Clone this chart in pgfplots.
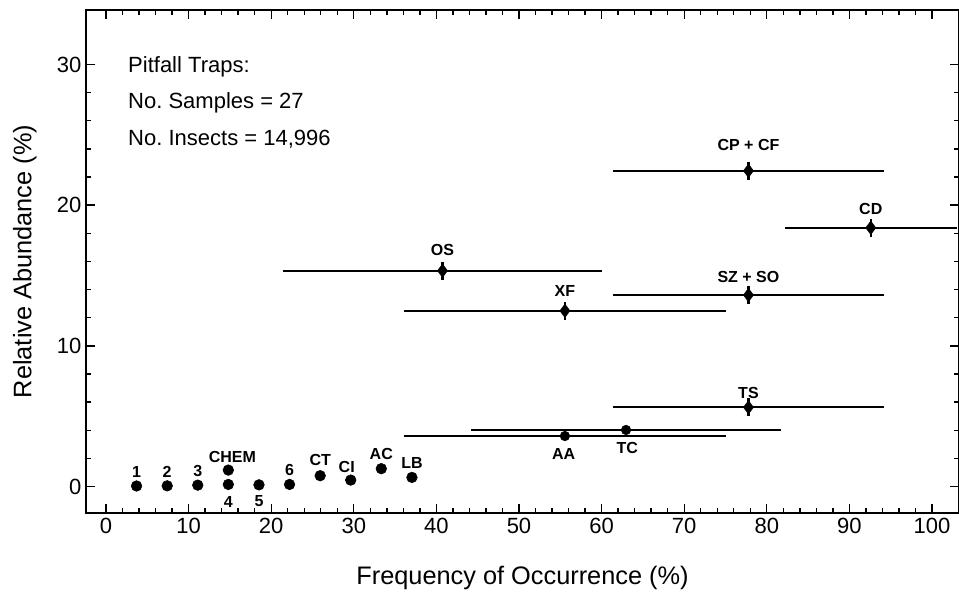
\documentclass[border=0pt]{standalone}
\usepackage{pgfplots}
\pgfplotsset{compat=1.18}
\usepackage{pgfplotstable}
\usepackage{fontspec}
\setmainfont{Liberation Sans}
\frenchspacing

% frequency = k/27 samples, abundance in %
\pgfplotstableread[col sep=comma]{
x,y,lab,dx,dy
3.70,0.04,1,0,10.5
7.41,0.05,2,0,10.5
11.11,0.10,3,0,10.5
14.81,0.15,4,0,-13
14.81,1.17,CHEM,3,10
18.52,0.12,5,0,-12
22.22,0.15,6,0,11
25.93,0.77,CT,0,11.5
29.63,0.46,CI,-3,9.5
33.33,1.27,AC,0,11
37.04,0.65,LB,0,11
}\smallpts

\pgfplotstableread[col sep=comma]{
x,y,ex,lab,dx,dy
40.74,15.34,19.3,OS,0,15.5
55.56,12.49,19.5,XF,0,14.8
77.78,13.61,16.4,SZ + SO,0,13.7
77.78,22.44,16.4,CP + CF,0,19.3
92.59,18.39,10.4,CD,0,13.8
77.78,5.63,16.4,TS,0,10.5
}\bigpts

\pgfplotstableread[col sep=comma]{
x,y,ex,lab,dx,dy
62.96,4.02,18.8,TC,1,-13.7
55.56,3.59,19.5,AA,-1,-13.5
}\lowpts

\pgfplotsset{ptlabels/.style={
  nodes near coords, point meta=explicit symbolic,
  visualization depends on={\thisrow{dx} \as \labdx},
  visualization depends on={\thisrow{dy} \as \labdy},
  nodes near coords style={font=\fontsize{12}{13}\selectfont\bfseries,
    anchor=center, inner sep=0pt, xshift=\labdx pt, yshift=\labdy pt}}}

\begin{document}
\begin{tikzpicture}
\begin{axis}[
  scale only axis,
  width=654.75pt, height=377.25pt,
  xmin=-2.42, xmax=103.27,
  ymin=-1.88, ymax=33.87,
  xtick={0,10,...,100},
  ytick={0,10,20,30},
  minor x tick num=4,
  minor y tick num=4,
  tick align=inside,
  major tick length=6.75pt,
  minor tick length=3.75pt,
  axis line style={line width=1.2pt},
  every tick/.style={black, line width=1pt},
  /pgf/number format/assume math mode=true,
  ticklabel style={font=\fontsize{16.5}{18}\selectfont},
  xlabel={Frequency of Occurrence (\%)},
  ylabel={Relative Abundance (\%)},
  label style={font=\fontsize{19}{22}\selectfont},
  x label style={at={(axis description cs:0.5,-0.129)}, anchor=center},
  y label style={at={(axis description cs:-0.07,0.5)}, anchor=center},
  clip=true,
]

\addplot[only marks, mark=*, mark size=4pt, black, ptlabels]
  table[x=x, y=y, meta=lab] {\smallpts};

\addplot[only marks, mark=diamond*, mark size=5pt, black,
  error bars/.cd, x dir=both, x explicit, y dir=both, y fixed=0.65,
  error mark=none, error bar style={line width=1.7pt}]
  table[x=x, y=y, x error=ex] {\bigpts};
\addplot[only marks, mark=none, ptlabels]
  table[x=x, y=y, meta=lab] {\bigpts};

\addplot[only marks, mark=*, mark size=3.6pt, black,
  error bars/.cd, x dir=both, x explicit,
  error mark=none, error bar style={line width=1.7pt}]
  table[x=x, y=y, x error=ex] {\lowpts};
\addplot[only marks, mark=none, ptlabels]
  table[x=x, y=y, meta=lab] {\lowpts};

\node[anchor=base west, inner sep=0pt, font=\fontsize{16.5}{18}\selectfont]
  at (axis cs:2.66,29.46) {Pitfall Traps:};
\node[anchor=base west, inner sep=0pt, font=\fontsize{16.5}{18}\selectfont]
  at (axis cs:2.66,26.88) {No. Samples = 27};
\node[anchor=base west, inner sep=0pt, font=\fontsize{16.5}{18}\selectfont]
  at (axis cs:2.66,24.22) {No. Insects = 14,996};
\end{axis}
\pgfresetboundingbox
\path[use as bounding box] (-64.5pt,-63.75pt) rectangle (654.75pt,384.75pt);
\end{tikzpicture}
\end{document}
